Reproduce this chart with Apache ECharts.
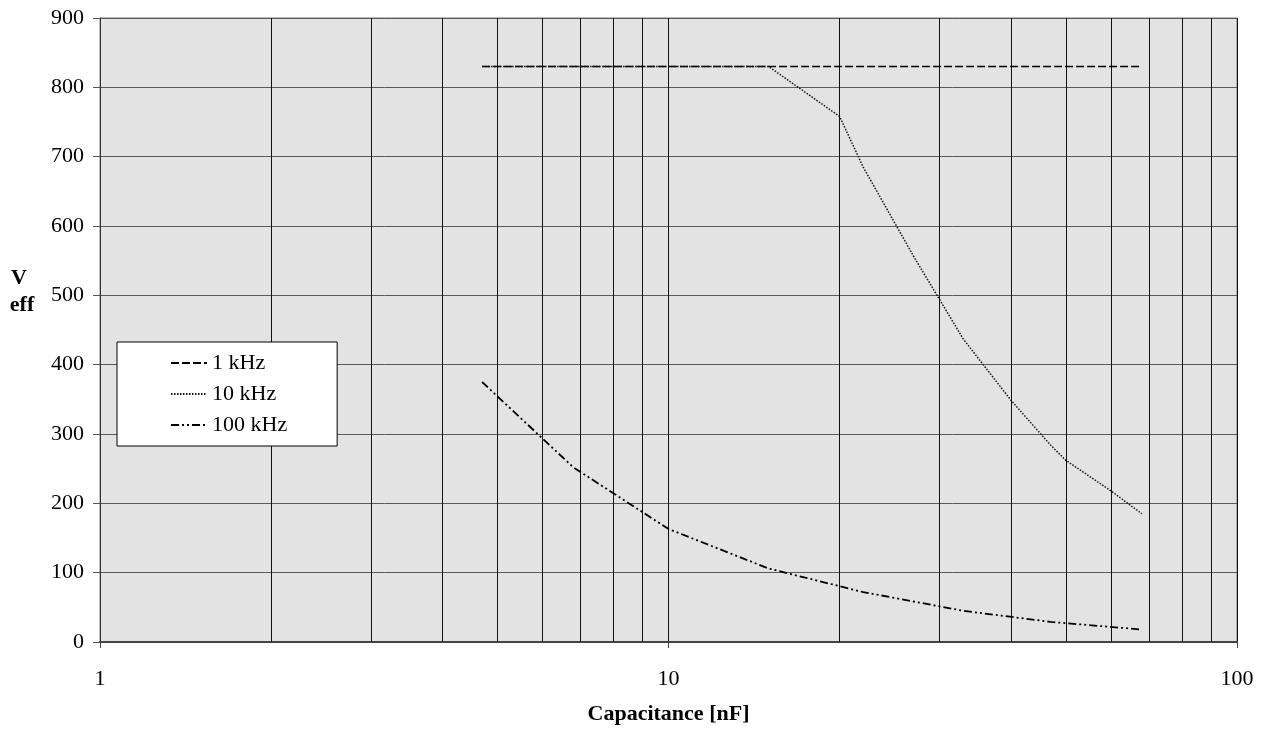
<!DOCTYPE html>
<html>
<head>
<meta charset="utf-8">
<script src="https://cdn.jsdelivr.net/npm/echarts@6/dist/echarts.min.js"></script>
<style>html,body{margin:0;padding:0;background:#fff;}#c{width:1263px;height:730px;}</style>
</head>
<body>
<div id="c"></div>
<script>
// Capacitance [nF] and Veff values
const cap1k = [4.7, 6.8, 10, 15, 22, 33, 47, 68];
const v1k = [830, 830, 830, 830, 830, 830, 830, 830];
const cap10k = [4.7, 6.8, 10, 15, 20, 22, 27, 33, 40, 47, 50, 60, 68];
const v10k = [830, 830, 830, 830, 758, 685, 556, 437, 349, 284, 262, 218, 185];
const cap100k = [4.7, 6.8, 10, 15, 22, 33, 47, 68];
const v100k = [375, 252, 163, 106, 72, 45, 29, 18];
const seriesNames = ['1 kHz', '10 kHz', '100 kHz'];
const minorGridValues = [2, 3, 4, 5, 6, 7, 8, 9, 20, 30, 40, 50, 60, 70, 80, 90];
const yTicks = {min: 0, max: 900, interval: 100};
const xRange = {min: 1, max: 100};

const pairs = (xs, ys) => xs.map((x, i) => [x, ys[i]]);
const FONT = '"Liberation Serif", "DejaVu Serif", serif';

const chart = echarts.init(document.getElementById('c'));
chart.setOption({
  animation: false,
  color: ['#000', '#000', '#000'],
  textStyle: {fontFamily: FONT},
  grid: {
    left: 100, right: 26, top: 18, bottom: 88,
    show: true, backgroundColor: '#e3e3e3', borderColor: '#777', borderWidth: 1
  },
  xAxis: {
    type: 'log', logBase: 10, min: xRange.min, max: xRange.max,
    name: 'Capacitance [nF]', nameLocation: 'middle', nameGap: 61,
    nameTextStyle: {fontFamily: FONT, fontWeight: 'bold', fontSize: 22, color: '#000'},
    axisLine: {show: true, onZero: false, lineStyle: {color: '#444', width: 2}},
    axisTick: {show: true, length: 6, lineStyle: {color: '#444'}},
    axisLabel: {fontFamily: FONT, fontSize: 22, color: '#000', margin: 26},
    splitLine: {show: true, lineStyle: {color: '#111', width: 1}},
    minorTick: {show: false}, minorSplitLine: {show: false}
  },
  yAxis: {
    type: 'value', min: yTicks.min, max: yTicks.max, interval: yTicks.interval,
    axisLine: {show: true, lineStyle: {color: '#333', width: 1}},
    axisTick: {show: true, length: 7, lineStyle: {color: '#555'}},
    axisLabel: {fontFamily: FONT, fontSize: 22, color: '#000', margin: 16},
    splitLine: {show: true, lineStyle: {color: '#5a5a5a', width: 1}}
  },
  legend: {
    orient: 'vertical', left: 117, top: 342,
    data: seriesNames,
    backgroundColor: '#fff', borderColor: '#000', borderWidth: 1,
    padding: [10, 50, 10, 53],
    itemWidth: 36, itemHeight: 14, itemGap: 9,
    itemStyle: {opacity: 0},
    textStyle: {fontFamily: FONT, fontSize: 22, color: '#000'}
  },
  graphic: [
    {type: 'text', z: 10, style: {x: 19, y: 278, text: 'V', font: 'bold 22px ' + FONT, fill: '#000', align: 'center', verticalAlign: 'middle'}},
    {type: 'text', z: 10, style: {x: 22, y: 305, text: 'eff', font: 'bold 22px ' + FONT, fill: '#000', align: 'center', verticalAlign: 'middle'}}
  ],
  series: [
    {
      name: seriesNames[0], type: 'line', symbol: 'none', z: 4,
      data: pairs(cap1k, v1k),
      lineStyle: {color: '#000', width: 1.4, type: [8, 3]},
      markLine: {
        silent: true, symbol: 'none', z: 1, animation: false,
        label: {show: false},
        lineStyle: {color: '#111', width: 1, type: 'solid'},
        emphasis: {disabled: true},
        data: minorGridValues.map(v => ({xAxis: v}))
      }
    },
    {
      name: seriesNames[1], type: 'line', symbol: 'none', z: 4,
      data: pairs(cap10k, v10k),
      lineStyle: {color: '#111', width: 1.5, type: [1.5, 1.5]}
    },
    {
      name: seriesNames[2], type: 'line', symbol: 'none', z: 4,
      data: pairs(cap100k, v100k),
      lineStyle: {color: '#000', width: 1.8, type: [8, 3, 2, 3, 2, 3]}
    }
  ]
});
</script>
</body>
</html>
